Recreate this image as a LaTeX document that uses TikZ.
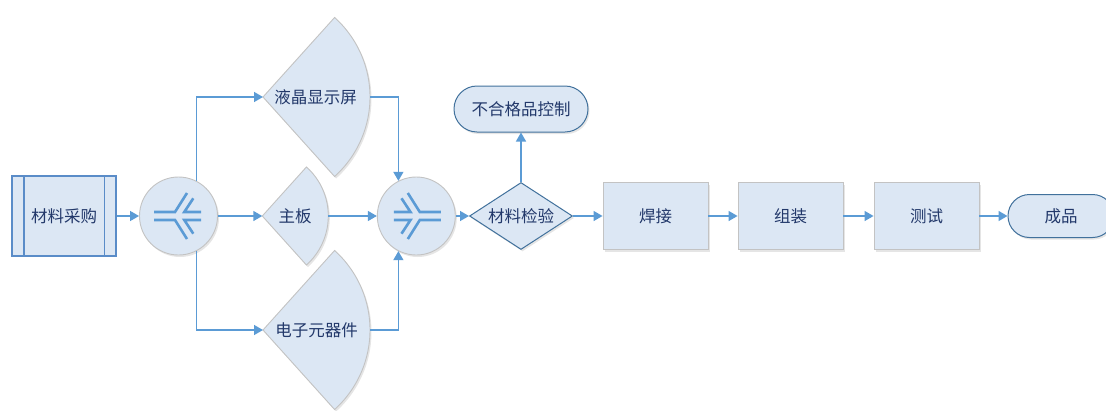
\documentclass[tikz,border=0pt]{standalone}
\usepackage{fontspec}
\newfontfamily\cjk{Noto Sans CJK SC}
\usetikzlibrary{shapes.geometric,arrows.meta,shadows}
\definecolor{boxfill}{HTML}{DCE7F4}
\definecolor{boxline}{HTML}{C3C3C3}
\definecolor{termline}{HTML}{41719C}
\definecolor{buyline}{HTML}{5A8CC8}
\definecolor{flowline}{HTML}{5B9BD5}
\definecolor{txt}{HTML}{22386A}

\begin{document}
\begin{tikzpicture}[x=1pt,y=1pt,
	every node/.style={font=\cjk\fontsize{16.5}{19}\selectfont,text=txt},
	softshadow/.style={drop shadow={shadow xshift=1.5pt,shadow yshift=-2pt,fill=black,opacity=0.10}},
	proc/.style={draw=boxline,fill=boxfill,line width=0.9pt,minimum width=105,minimum height=67,inner sep=0pt,softshadow},
	term/.style={draw=termline,fill=boxfill,line width=1pt,inner sep=0pt,softshadow},
	merge/.style={draw=boxline,fill=boxfill,line width=0.9pt,circle,minimum size=78,inner sep=0pt,softshadow},
	sect/.style={draw=boxline,fill=boxfill,line width=0.9pt,softshadow},
	sym/.style={draw=flowline,line width=2.6pt},
	flow/.style={draw=flowline,line width=1.4pt,-{Triangle[length=9pt,width=10pt]}}]
	\useasboundingbox (0,0) rectangle (1106,-410);
	% sectors
	\draw[sect] (263,-97) -- ++(48:107) arc[start angle=48,end angle=-48,radius=107] -- cycle;
	\draw[sect] (262.3,-216) -- ++(48:66) arc[start angle=48,end angle=-48,radius=66] -- cycle;
	\draw[sect] (263,-330) -- ++(48:107) arc[start angle=48,end angle=-48,radius=107] -- cycle;
	\coordinate (lcdin) at (263,-97);
	\coordinate (lcdout) at (370,-97);
	\coordinate (boardin) at (262.3,-216);
	\coordinate (boardout) at (328.3,-216);
	\coordinate (partsin) at (263,-330);
	\coordinate (partsout) at (370,-330);
	\node (lcd) at (315.5,-97) {液晶显示屏};
	\node (board) at (295,-216) {主板};
	\node (parts) at (316.7,-330) {电子元器件};
	% nodes
	\node[draw=buyline,fill=boxfill,line width=1.1pt,minimum width=104,minimum height=80,inner sep=0pt] (buy) at (64,-216) {材料采购};
	\draw[buyline,line width=1.1pt] ([xshift=12.5]buy.north west) -- ([xshift=12.5]buy.south west);
	\draw[buyline,line width=1.1pt] ([xshift=-12.5]buy.north east) -- ([xshift=-12.5]buy.south east);
	\node[merge] (c1) at (178.5,-216) {};
	\node[merge] (c2) at (416.3,-216) {};
	\node[term,diamond,aspect=1.54,minimum width=103,minimum height=67] (check) at (521,-216) {材料检验};
	\node[term,minimum width=134,minimum height=46,rounded corners=23] (reject) at (521,-109) {不合格品控制};
	\node[proc] (weld) at (655.5,-216) {焊接};
	\node[proc] (assemble) at (790.5,-216) {组装};
	\node[proc] (test) at (926.5,-216) {测试};
	\node[term,minimum width=106,minimum height=43,rounded corners=21.5] (product) at (1061,-216) {成品};
	% merge symbols
	\begin{scope}[shift={(c1.center)}]
		\draw[sym] (-24.5,4) -- (-3.5,4) -- (8.5,23);
		\draw[sym] (22.5,4) -- (5.8,4) -- (14.8,17.7);
		\draw[sym] (-24.5,-4) -- (-3.5,-4) -- (8.5,-23);
		\draw[sym] (22.5,-4) -- (5.8,-4) -- (14.8,-17.7);
	\end{scope}
	\begin{scope}[shift={(c2.center)},xscale=-1]
		\draw[sym] (-24.5,4) -- (-3.5,4) -- (8.5,23);
		\draw[sym] (22.5,4) -- (5.8,4) -- (14.8,17.7);
		\draw[sym] (-24.5,-4) -- (-3.5,-4) -- (8.5,-23);
		\draw[sym] (22.5,-4) -- (5.8,-4) -- (14.8,-17.7);
	\end{scope}
	% connectors
	\draw[flow] (buy) -- (c1);
	\draw[flow] (c1.63) |- (lcdin);
	\draw[flow] (c1) -- (boardin);
	\draw[flow] (c1.-63) |- (partsin);
	\draw[flow] (lcdout) -| (c2.117);
	\draw[flow] (boardout) -- (c2);
	\draw[flow] (partsout) -| (c2.-117);
	\draw[flow] (c2) -- (check);
	\draw[flow] (check) -- (reject);
	\draw[flow] (check) -- (weld);
	\draw[flow] (weld) -- (assemble);
	\draw[flow] (assemble) -- (test);
	\draw[flow] (test) -- (product);
\end{tikzpicture}
\end{document}
